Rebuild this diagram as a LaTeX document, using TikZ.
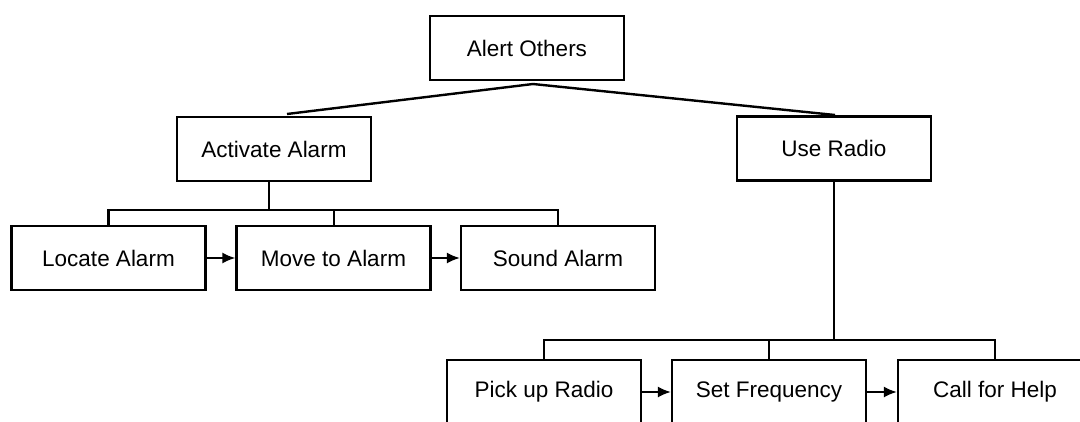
\documentclass[tikz,border=0pt]{standalone}
\usepackage{fontspec}
\setmainfont{Liberation Sans}
\usetikzlibrary{arrows.meta}
\begin{document}
\begin{tikzpicture}[x=1pt,y=-1pt,
  box/.style={draw,line width=2.2pt,minimum width=194pt,minimum height=64pt,inner sep=0pt,
    font=\fontsize{22.5}{26}\selectfont},
  link/.style={line width=2pt},
  seq/.style={line width=2pt,-{Latex[length=13pt,width=11pt]}}]
\useasboundingbox (0,0) rectangle (1080,421);
\clip (0,0) rectangle (1080,421);
\node[box] (alert) at (527,48) {Alert Others};
\node[box] (act) at (274,149) {Activate Alarm};
\node[box] (radio) at (834,148.5) {Use Radio};
\node[box] (loc) at (108.5,258) {Locate Alarm};
\node[box] (move) at (333.5,258) {Move to Alarm};
\node[box] (sound) at (558,258) {Sound Alarm};
\node[box] (pick) at (544,392) {Pick up Radio};
\node[box] (freq) at (769,392) {Set Frequency};
\node[box] (help) at (995,392) {Call for Help};
% top connectors
\coordinate (apex) at (533,84);
\coordinate (actTop) at (287,114);
\coordinate (radTop) at (835,115);
\draw[link,line width=2.4pt] (actTop) -- (apex) -- (radTop);
% activate alarm tree
\coordinate (actDown) at (269,182);
\coordinate (actBar) at (269,210);
\draw[link] (actDown) -- (actBar);
\draw[link,line width=2.4pt] (loc.north) |- (actBar) -| (sound.north);
\draw[link] (move.north) -- (move.north |- actBar);
% use radio tree
\coordinate (radBar) at (833,340);
\draw[link] (radio.south) -- (radio.south |- radBar);
\draw[link] (pick.north) |- (radBar) -| (help.north);
\draw[link] (freq.north) -- (freq.north |- radBar);
% sequence arrows
\draw[seq] (loc) -- (move);
\draw[seq] (move) -- (sound);
\draw[seq] (pick) -- (freq);
\draw[seq] (freq) -- (help);
\end{tikzpicture}
\end{document}
